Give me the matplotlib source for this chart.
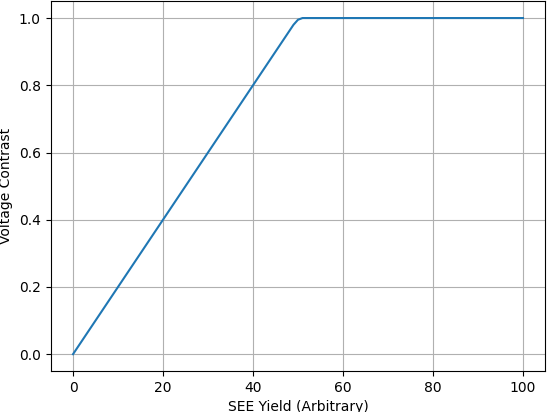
import matplotlib
matplotlib.use("Agg")
import matplotlib.pyplot as plt

see_yield = [0, 10, 20, 30, 40, 48, 49, 50, 51, 60, 70, 80, 90, 100]
contrast = [0.0, 0.2, 0.4, 0.6, 0.8, 0.96, 0.98, 0.995, 1.0, 1.0, 1.0, 1.0, 1.0, 1.0]

fig = plt.figure(figsize=(5.49, 4.12), dpi=100)
ax = fig.add_subplot(111)
fig.subplots_adjust(left=0.092, right=0.9936, top=0.997, bottom=0.0995)

ax.plot(see_yield, contrast)
ax.set_xlabel("SEE Yield (Arbitrary)")
ax.set_ylabel("Voltage Contrast")
ax.grid(True)

fig.savefig("out.png", dpi=100)
